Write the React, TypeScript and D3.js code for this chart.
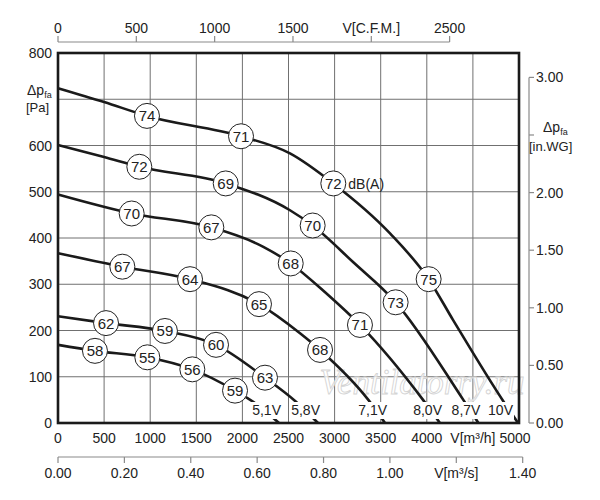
import * as d3 from "d3";

// fan curves: [m3/h, Pa]
const curve51 = [[0, 169], [401, 156], [969, 142], [1457, 116], [1920, 70], [2137, 43], [2397, 0]];
const curve58 = [[0, 231], [521, 216], [1160, 199], [1714, 169], [2245, 98], [2581, 46], [2820, 0]];
const curve71 = [[0, 367], [698, 338], [1432, 311], [2180, 257], [2625, 194], [2842, 158], [3366, 50], [3547, 0]];
const curve80 = [[0, 494], [799, 453], [1663, 423], [2227, 381], [2524, 345], [2900, 282], [3275, 212], [3959, 50], [4143, 0]];
const curve87 = [[0, 601], [500, 575], [882, 554], [1819, 518], [2516, 460], [2762, 427], [3200, 348], [3662, 261], [4396, 50], [4560, 0]];
const curve10 = [[0, 724], [500, 694], [965, 664], [1985, 620], [2516, 583], [2986, 518], [3601, 410], [4020, 311], [4284, 223], [4837, 45], [4990, 0]];

// noise markers on each curve: [m3/h, Pa, dB(A)]
const marks51 = [[401, 156, 58], [969, 142, 55], [1457, 116, 56], [1920, 70, 59]];
const marks58 = [[521, 216, 62], [1160, 199, 59], [1714, 169, 60], [2245, 98, 63]];
const marks71 = [[698, 338, 67], [1432, 311, 64], [2180, 257, 65], [2842, 158, 68]];
const marks80 = [[799, 453, 70], [1663, 423, 67], [2524, 345, 68], [3275, 212, 71]];
const marks87 = [[882, 554, 72], [1819, 518, 69], [2762, 427, 70], [3662, 261, 73]];
const marks10 = [[965, 664, 74], [1985, 620, 71], [2986, 518, 72], [4020, 311, 75]];

const voltages = ["5,1V", "5,8V", "7,1V", "8,0V", "8,7V", "10V"];
const curves = [curve51, curve58, curve71, curve80, curve87, curve10];
const marks = [marks51, marks58, marks71, marks80, marks87, marks10];

const flowTicks = [0, 500, 1000, 1500, 2000, 2500, 3000, 3500, 4000, 4500, 5000];
const pressureTicks = [0, 100, 200, 300, 400, 500, 600, 700, 800];
const cfmTicks = [0, 500, 1000, 1500, 2000, 2500];
const m3sTicks = [0, 0.2, 0.4, 0.6, 0.8, 1.0, 1.2, 1.4];
const inwgTicks = [0, 0.5, 1.0, 1.5, 2.0, 2.5, 3.0];

const CFM = 1.699; // m3/h per CFM
const PA_PER_INWG = 249.09;

const font = "Arial, 'Liberation Sans', Helvetica, sans-serif";

export default function App() {
  const x = d3.scaleLinear([0, 5000], [58, 519]);
  const y = d3.scaleLinear([0, 800], [423, 53]);
  const xc = d3.scaleLinear([0, 2500], [x(0), x(2500 * CFM)]);
  const xs = d3.scaleLinear([0, 1.4], [x(0), x(1.4 * 3600)]);
  const yw = d3.scaleLinear([0, 3], [y(0), y(3 * PA_PER_INWG)]);

  const line = d3
    .line<number[]>()
    .x((d) => x(d[0]))
    .y((d) => y(d[1]))
    .curve(d3.curveMonotoneX);

  const axisColor = "#8a8a8a";

  return (
    <svg width={600} height={500} style={{ position: "absolute", left: 0, top: 0, background: "#fff" }} fontFamily={font}>
      {/* grid */}
      <g stroke="#707070" strokeWidth={1}>
        {flowTicks.slice(1, -1).map((t) => (
          <line key={"v" + t} x1={x(t)} x2={x(t)} y1={y(0)} y2={y(800)} />
        ))}
        {pressureTicks.slice(1, -1).map((t) => (
          <line key={"h" + t} x1={x(0)} x2={x(5000)} y1={y(t)} y2={y(t)} />
        ))}
      </g>

      {/* watermark */}
      <text x={422} y={394} textAnchor="middle" fontFamily="'Liberation Serif', 'DejaVu Serif', serif" fontStyle="italic"
        fontSize={35} fill="#fff" fillOpacity={0.75} stroke="#d4d4d4" strokeWidth={0.9}>
        Ventilatorry.ru
      </text>

      {/* curves */}
      <g fill="none" stroke="#1a1a1a" strokeWidth={2.6}>
        {curves.map((c, i) => (
          <path key={i} d={line(c) || ""} />
        ))}
      </g>

      {/* voltage labels */}
      {curves.map((c, i) => {
        const end = c[c.length - 1];
        const ex = Math.min(x(end[0]) + 2, x(5000) - 6);
        return (
          <g key={"vl" + i}>
            <rect x={ex - (voltages[i].length > 3 ? 31 : 25)} y={402} width={voltages[i].length > 3 ? 32 : 26} height={17} fill="#fff" />
            <text x={ex} y={415} textAnchor="end" fontSize={14} fill="#222">
              {voltages[i]}
            </text>
          </g>
        );
      })}

      {/* noise markers */}
      {marks.map((m, i) =>
        m.map((d, j) => (
          <g key={"m" + i + "-" + j}>
            <circle cx={x(d[0])} cy={y(d[1])} r={12.5} fill="#fff" stroke="#222" strokeWidth={1} />
            <text x={x(d[0])} y={y(d[1]) + 5.5} textAnchor="middle" fontSize={15} fill="#222">
              {d[2]}
            </text>
          </g>
        ))
      )}
      <text x={x(marks10[2][0]) + 15} y={y(marks10[2][1]) + 6} fontSize={14} fill="#222">
        dB(A)
      </text>

      {/* frame */}
      <rect x={x(0)} y={y(800)} width={x(5000) - x(0)} height={y(0) - y(800)} fill="none" stroke="#1a1a1a" strokeWidth={2.6} />

      {/* left axis: Pa */}
      <g fontSize={14} fill="#222" textAnchor="end">
        {pressureTicks.filter((t) => t !== 700).map((t) => (
          <text key={t} x={x(0) - 6} y={y(t) + 5}>{t}</text>
        ))}
      </g>
      <text x={27} y={95} fontSize={14} fill="#222">
        Δp<tspan fontSize={9} dy={3}>fa</tspan>
      </text>
      <text x={26} y={112} fontSize={13} fill="#222">[Pa]</text>

      {/* bottom axis: m3/h */}
      <g fontSize={14} fill="#222" textAnchor="middle">
        {flowTicks.map((t) => (
          <text key={t} x={t === 5000 ? x(t) - 4 : x(t)} y={443}>
            {t === 4500 ? "V[m³/h]" : t}
          </text>
        ))}
      </g>

      {/* top axis: CFM */}
      <line x1={xc(0)} x2={xc(2500)} y1={42} y2={42} stroke={axisColor} strokeWidth={1.2} />
      {cfmTicks.map((t) => (
        <g key={"c" + t}>
          <line x1={xc(t)} x2={xc(t)} y1={36} y2={42} stroke={axisColor} strokeWidth={1.2} />
          <text x={xc(t)} y={33} textAnchor="middle" fontSize={14} fill="#222">
            {t === 2000 ? "V[C.F.M.]" : t}
          </text>
        </g>
      ))}

      {/* bottom axis: m3/s */}
      <line x1={xs(0)} x2={xs(1.4)} y1={457} y2={457} stroke={axisColor} strokeWidth={1.2} />
      {m3sTicks.map((t) => (
        <g key={"s" + t}>
          <line x1={xs(t)} x2={xs(t)} y1={457} y2={463} stroke={axisColor} strokeWidth={1.2} />
          <text x={xs(t)} y={478} textAnchor="middle" fontSize={14} fill="#222">
            {Math.abs(t - 1.2) < 1e-9 ? "V[m³/s]" : t.toFixed(2)}
          </text>
        </g>
      ))}

      {/* right axis: in.WG */}
      <line x1={529} x2={529} y1={yw(0)} y2={yw(3)} stroke={axisColor} strokeWidth={1.2} />
      {inwgTicks.map((t) => (
        <g key={"w" + t}>
          <line x1={529} x2={534} y1={yw(t)} y2={yw(t)} stroke={axisColor} strokeWidth={1.2} />
          {t !== 2.5 && (
            <text x={536} y={yw(t) + 5} fontSize={14} fill="#222">{t.toFixed(2)}</text>
          )}
        </g>
      ))}
      <text x={543} y={132} fontSize={14} fill="#222">
        Δp<tspan fontSize={9} dy={3}>fa</tspan>
      </text>
      <text x={529} y={151} fontSize={13} fill="#222">[in.WG]</text>
    </svg>
  );
}
